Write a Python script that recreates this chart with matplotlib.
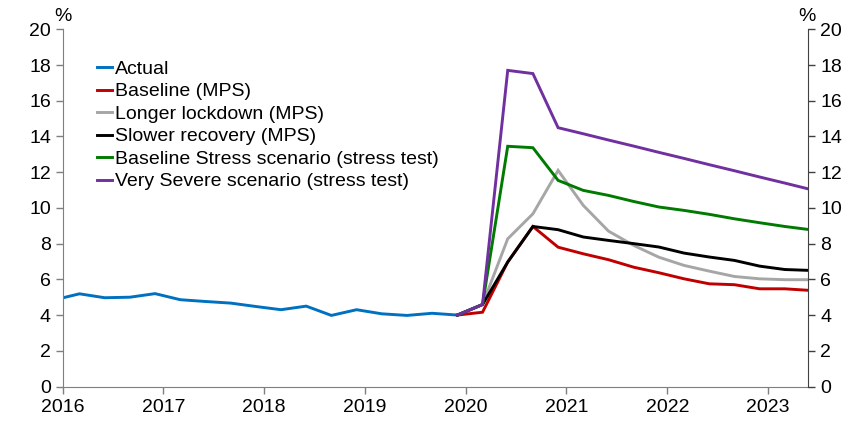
import matplotlib
matplotlib.use("Agg")
import matplotlib.pyplot as plt
import pandas as pd

plt.rcParams['font.family'] = ['Liberation Sans', 'DejaVu Sans']

# ---- data ----
actual_dates = pd.date_range('2015-12-01', '2019-12-01', freq='3MS')
actual = [4.85, 5.19, 4.97, 5.0, 5.2, 4.86, 4.76, 4.67, 4.48, 4.3, 4.5, 3.98,
          4.3, 4.07, 3.98, 4.1, 4.0]

proj_dates = pd.date_range('2019-12-01', '2023-06-01', freq='3MS')
baseline_mps = [4.0, 4.16, 6.97, 8.96, 7.8, 7.43, 7.1, 6.68, 6.37, 6.03, 5.75,
                5.7, 5.47, 5.47, 5.38]
longer_lockdown = [4.0, 4.59, 8.27, 9.67, 12.1, 10.14, 8.7, 7.9, 7.24, 6.78,
                   6.46, 6.16, 6.03, 5.98, 5.98]
slower_recovery = [4.0, 4.59, 6.97, 8.96, 8.78, 8.37, 8.18, 8.0, 7.81, 7.47,
                   7.25, 7.06, 6.74, 6.55, 6.5]
baseline_stress = [4.0, 4.59, 13.45, 13.37, 11.54, 10.98, 10.7, 10.36, 10.05,
                   9.86, 9.64, 9.39, 9.17, 8.96, 8.78]
very_severe = [4.0, 4.59, 17.7, 17.52, 14.49, 14.15, 13.8, 13.46, 13.11, 12.77,
               12.42, 12.08, 11.73, 11.39, 11.04]

labels = ['Actual', 'Baseline (MPS)', 'Longer lockdown (MPS)',
          'Slower recovery (MPS)', 'Baseline Stress scenario (stress test)',
          'Very Severe scenario (stress test)']
colors = ['#0070C0', '#C00000', '#A6A6A6', '#000000', '#007A00', '#7030A0']
year_ticks = [2016, 2017, 2018, 2019, 2020, 2021, 2022, 2023]
y_ticks = list(range(0, 21, 2))


def to_dec(dates):
    return [d.year + (d.month - 1) / 12 for d in dates]


xa = to_dec(actual_dates)
xp = to_dec(proj_dates)

fig = plt.figure(figsize=(8.59, 4.22), dpi=100)
ax = fig.add_axes([0.073, 0.0841, 0.868, 0.8465])

series = [(xa, actual), (xp, baseline_mps), (xp, longer_lockdown),
          (xp, slower_recovery), (xp, baseline_stress), (xp, very_severe)]
lines = []
for (x, y), lab, c in zip(series, labels, colors):
    ln, = ax.plot(x, y, color=c, lw=2.1, label=lab, solid_joinstyle='miter')
    lines.append(ln)

ax.set_xlim(2016, 2023.40)
ax.set_ylim(0, 20)
ax.set_xticks(year_ticks)
ax.set_xticklabels([str(t) for t in year_ticks])
ax.set_yticks(y_ticks)
ax.tick_params(axis='both', labelsize=14, direction='out', length=5,
               color='#7f7f7f', width=1)
ax.tick_params(axis='x', pad=4)

ax2 = ax.twinx()
ax2.set_ylim(0, 20)
ax2.set_yticks(y_ticks)
ax2.tick_params(axis='y', labelsize=14, direction='out', length=5,
                color='#404040', width=1)

for a in (ax, ax2):
    a.spines['top'].set_visible(False)
ax.spines['left'].set_color('#7f7f7f')
ax.spines['bottom'].set_color('#7f7f7f')
ax.spines['right'].set_visible(False)
ax2.spines['left'].set_visible(False)
ax2.spines['bottom'].set_visible(False)
ax2.spines['right'].set_color('#404040')

fig.text(0.0735, 0.962, '%', ha='center', va='center', fontsize=14)
fig.text(0.9395, 0.962, '%', ha='center', va='center', fontsize=14)

leg = ax.legend(handles=lines, loc='upper left',
                bbox_to_anchor=(0.1133, 0.857), bbox_transform=fig.transFigure,
                frameon=False, fontsize=14, handlelength=0.75,
                handletextpad=0.15, labelspacing=0.25, borderpad=0,
                borderaxespad=0)

fig.savefig('out.png', dpi=100)
